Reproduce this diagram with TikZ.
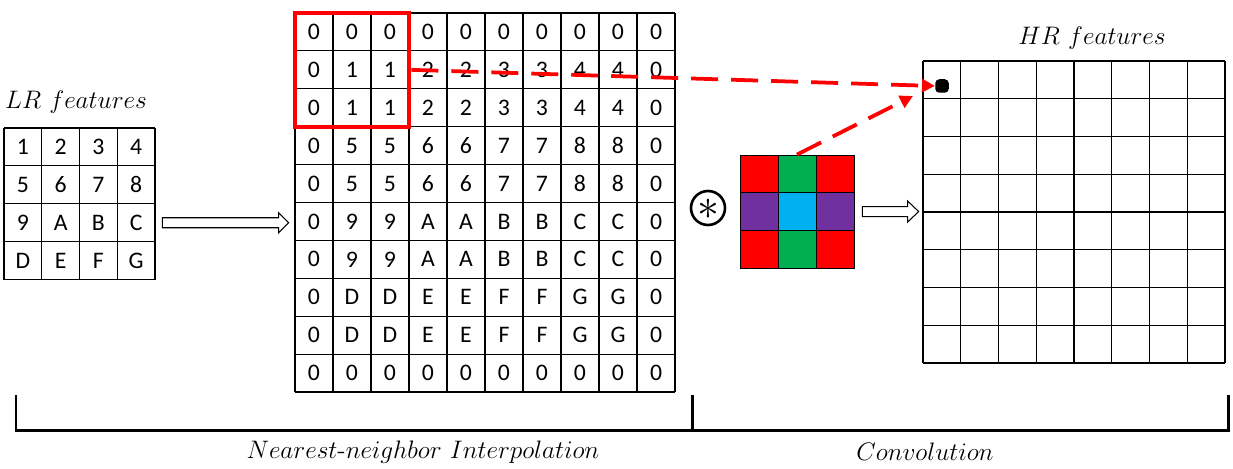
\documentclass[tikz,border=0pt]{standalone}
\usepackage{fontspec}
\newfontfamily\cellfont{Carlito}
\usetikzlibrary{calc,arrows.meta,fit}
\definecolor{kred}{HTML}{FF0000}
\definecolor{kgreen}{HTML}{00B050}
\definecolor{kpurple}{HTML}{7030A0}
\definecolor{kcyan}{HTML}{00B0F0}
\begin{document}
\begin{tikzpicture}[x=0.02cm,y=-0.02cm,
  cell/.style={minimum width=0.755cm, minimum height=0.757cm, inner sep=0pt,
    font=\cellfont\fontsize{13.5}{16}\selectfont},
  gridline/.style={draw=black, line width=0.6pt},
  kcell/.style={draw=black, line width=0.5pt, minimum width=0.76cm, minimum height=0.754cm, inner sep=0pt},
  hollow/.style={draw=black, line width=0.6pt, fill=white},
  reddash/.style={draw=kred, line width=0.075cm, dash pattern=on 0.54cm off 0.26cm,
    -{Triangle[length=0.26cm,width=0.26cm]}},
  lbl/.style={font=\fontsize{14.5}{16}\selectfont, inner sep=0pt},
  bracket/.style={draw=black, line width=0.06cm},
]
\useasboundingbox (0,0) rectangle (1233,469);
% LR grid
\foreach \r [count=\i] in {{1,2,3,4},{5,6,7,8},{9,A,B,C},{D,E,F,G}} {
  \foreach \c [count=\j] in \r {
    \node[cell] (lr-\i-\j) at ({4+37.75*(\j-0.5)},{128+37.9*(\i-0.5)}) {\c};
  }
}
\coordinate (lrnw) at (4,128);
\foreach \k in {0,...,4} {
  \draw[gridline] ($(lrnw)+({37.75*\k},0)$) -- ++(0,151.6);
  \draw[gridline] ($(lrnw)+(0,{37.9*\k})$) -- ++(151,0);
}
\node[lbl] (lrlabel) at (76,102) {$LR\ features$};
% big grid
\foreach \r [count=\i] in {
  {0,0,0,0,0,0,0,0,0,0},
  {0,1,1,2,2,3,3,4,4,0},
  {0,1,1,2,2,3,3,4,4,0},
  {0,5,5,6,6,7,7,8,8,0},
  {0,5,5,6,6,7,7,8,8,0},
  {0,9,9,A,A,B,B,C,C,0},
  {0,9,9,A,A,B,B,C,C,0},
  {0,D,D,E,E,F,F,G,G,0},
  {0,D,D,E,E,F,F,G,G,0},
  {0,0,0,0,0,0,0,0,0,0}} {
  \foreach \c [count=\j] in \r {
    \node[cell, minimum width=0.76cm] (big-\i-\j) at ({295+38*(\j-0.5)},{13+37.9*(\i-0.5)}) {\c};
  }
}
\coordinate (bignw) at (295,13);
\foreach \k in {0,...,10} {
  \draw[gridline] ($(bignw)+({38*\k},0)$) -- ++(0,379);
  \draw[gridline] ($(bignw)+(0,{37.9*\k})$) -- ++(380,0);
}
\node[fit=(big-1-1)(big-3-3), draw=kred, line width=0.08cm, inner sep=0pt] (redbox) {};
% kernel
\foreach \r [count=\i] in {{kred,kgreen,kred},{kpurple,kcyan,kpurple},{kred,kgreen,kred}} {
  \foreach \c [count=\j] in \r {
    \node[kcell, fill=\c] (k-\i-\j) at ({740+38*(\j-0.5)},{155+37.7*(\i-0.5)}) {};
  }
}
\node[circle, draw=black, line width=1.5pt, minimum size=0.68cm, inner sep=0pt, font=\Huge] (conv) at (708,208) {\raisebox{-1.2ex}{$\ast$}};
% HR grid
\foreach \i in {1,...,8} {
  \foreach \j in {1,...,8} {
    \node[cell, minimum width=0.755cm, minimum height=0.755cm] (hr-\i-\j) at ({923+37.75*(\j-0.5)},{61+37.75*(\i-0.5)}) {};
  }
}
\coordinate (hrnw) at (923,61);
\foreach \k in {0,...,8} {
  \draw[gridline] ($(hrnw)+({37.75*\k},0)$) -- ++(0,302);
  \draw[gridline] ($(hrnw)+(0,{37.75*\k})$) -- ++(302,0);
}
\node[lbl] (hrlabel) at (1092,38) {$HR\ features$};
\node[fill=black, rounded corners=0.08cm, minimum size=0.27cm, inner sep=0pt] (dot) at (942,86) {};
% hollow arrows
\coordinate (a1s) at ($(lr-3-4.east)+(7,0)$);
\coordinate (a1e) at ($(big-6-1.west |- a1s)+(-6,0)$);
\draw[hollow] ($(a1s)+(0,-5)$) -- ($(a1e)+(-10,-5)$) -- ($(a1e)+(-10,-10)$) -- (a1e)
  -- ($(a1e)+(-10,10)$) -- ($(a1e)+(-10,5)$) -- ($(a1s)+(0,5)$) -- cycle;
\coordinate (a2s) at ($(k-2-3.east)+(8,0)$);
\coordinate (a2e) at ($(hr-4-1.west |- a2s)+(-4,0)$);
\draw[hollow] ($(a2s)+(0,-5)$) -- ($(a2e)+(-11,-5)$) -- ($(a2e)+(-11,-10.5)$) -- (a2e)
  -- ($(a2e)+(-11,10.5)$) -- ($(a2e)+(-11,5)$) -- ($(a2s)+(0,5)$) -- cycle;
% red dashed arrows
\draw[reddash] (redbox.east |- big-2-3) -- (dot.west);
\coordinate (k2tip) at (913,96);
\draw[reddash] (k-1-2.north) -- (k2tip);
% bracket
\coordinate (bl) at (16,395);
\coordinate (bm) at (692,395);
\coordinate (br) at (1228,395);
\draw[bracket] (bl) -- ++(0,35) -| (br);
\draw[bracket] (bm) -- ++(0,35);
\node[lbl] (nnlabel) at (423,452) {$Nearest$-$neighbor\ Interpolation$};
\node[lbl] (convlabel) at (925,452) {$Convolution$};
\end{tikzpicture}
\end{document}
